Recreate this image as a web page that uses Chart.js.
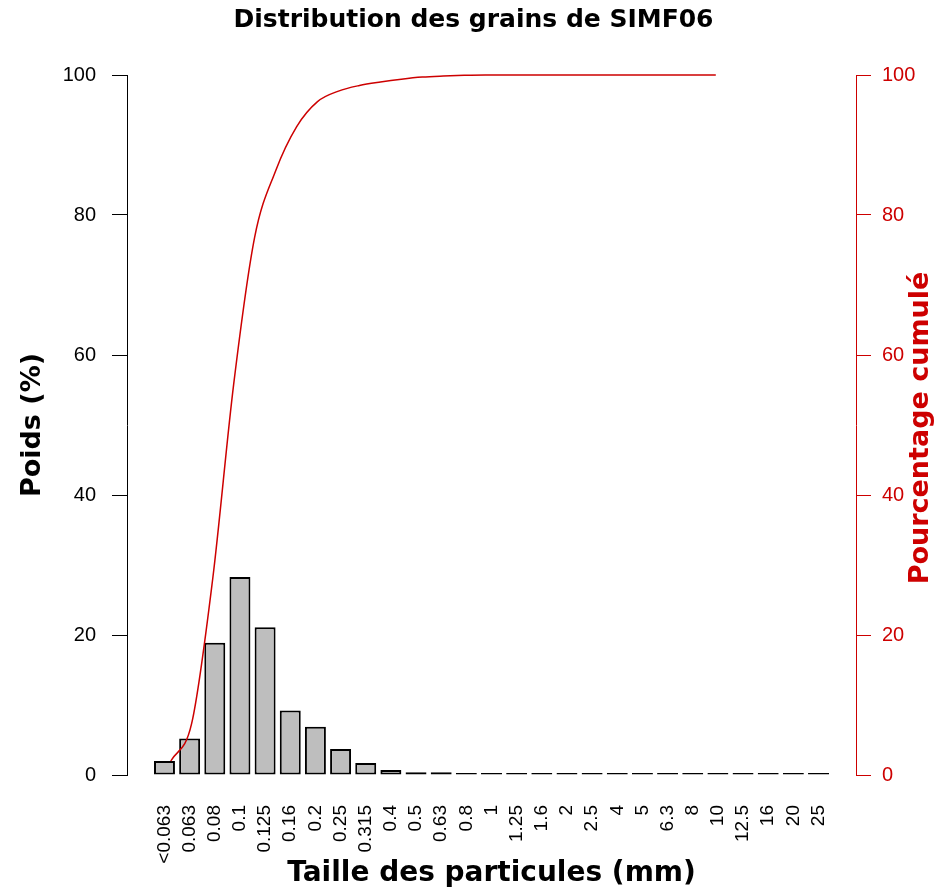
<!DOCTYPE html>
<html>
<head>
<meta charset="utf-8">
<script src="https://cdn.jsdelivr.net/npm/chart.js@4/dist/chart.umd.min.js"></script>
<style>
  body { margin: 0; background: #fff; }
</style>
</head>
<body>
<canvas id="grafico" width="947" height="894"></canvas>
<script>
// classes granulometriques (mm)
const tailles = ['<0.063', '0.063', '0.08', '0.1', '0.125', '0.16', '0.2', '0.25', '0.315',
  '0.4', '0.5', '0.63', '0.8', '1', '1.25', '1.6', '2', '2.5', '4', '5', '6.3', '8', '10',
  '12.5', '16', '20', '25'];
// poids retenu par classe (%)
const poids = [2.0, 5.2, 18.9, 28.3, 21.1, 9.2, 6.9, 3.7, 1.7, 0.7, 0.4, 0.4, 0, 0, 0,
  0, 0, 0, 0, 0, 0, 0, 0, 0, 0, 0, 0];
// pourcentage cumule (%)
const cumule = [2.0, 7.4, 28.0, 55.8, 76.8, 86.3, 92.6, 96.2, 97.7, 98.5, 99.0, 99.4, 99.7,
  99.85, 99.95, 100, 100, 100, 100, 100, 100, 100, 100, 100, 100, 100, 100];
const yTicks = [0, 20, 40, 60, 80, 100];

const rouge = '#cd0000';
const police = '"Liberation Sans", Arial, sans-serif';
const policeTitre = '"DejaVu Sans", Verdana, sans-serif';

// barplot a la R : barres de largeur 1, espace 0.2
const centres = tailles.map((t, i) => 0.7 + 1.2 * i);

// titre de l'axe droit, lu de bas en haut comme dans R
const titreDroit = {
  id: 'titreDroit',
  afterDraw(chart) {
    const ctx = chart.ctx;
    const a = chart.chartArea;
    ctx.save();
    ctx.translate(921, (a.top + a.bottom) / 2 + 3);
    ctx.rotate(-Math.PI / 2);
    ctx.fillStyle = rouge;
    ctx.font = 'bold 27px ' + policeTitre;
    ctx.textAlign = 'center';
    ctx.textBaseline = 'middle';
    ctx.fillText('Pourcentage cumulé', 0, 0);
    ctx.restore();
  }
};

let myChart = new Chart(document.getElementById('grafico'), {
  type: 'bar',
  data: {
    datasets: [{
      type: 'line',
      data: cumule.map((v, i) => ({x: i + 1, y: v})),
      yAxisID: 'y2',
      borderColor: rouge,
      borderWidth: 1.5,
      pointRadius: 0,
      cubicInterpolationMode: 'monotone',
      clip: false
    }, {
      type: 'bar',
      data: poids.map((v, i) => ({x: centres[i], y: v})),
      yAxisID: 'y',
      backgroundColor: '#bebebe',
      borderColor: '#000',
      borderWidth: 2,
      borderSkipped: false,
      minBarLength: 2,
      categoryPercentage: 1,
      barPercentage: 1 / 1.2,
      clip: false
    }]
  },
  options: {
    responsive: false,
    devicePixelRatio: 1,
    animation: false,
    layout: { padding: 0 },
    plugins: {
      legend: { display: false },
      tooltip: { enabled: false },
      title: {
        display: true,
        text: 'Distribution des grains de SIMF06',
        color: '#000',
        font: { family: policeTitre, size: 25, weight: 'bold' },
        padding: { top: 5, bottom: 40 }
      }
    },
    scales: {
      x: {
        type: 'linear',
        min: -1.088,
        max: 33.688,
        offset: false,
        grid: { display: false, drawTicks: false },
        border: { display: false },
        afterBuildTicks: s => { s.ticks = centres.map(v => ({value: v})); },
        afterFit: s => { s.height = 119; },
        ticks: {
          autoSkip: false,
          minRotation: 90,
          maxRotation: 90,
          padding: 30,
          color: '#000',
          font: { family: police, size: 19 },
          callback: (v, i) => tailles[i]
        },
        title: {
          display: true,
          text: 'Taille des particules (mm)',
          color: '#000',
          font: { family: policeTitre, size: 28, weight: 'bold' },
          padding: { top: 0, bottom: 3 }
        }
      },
      y: {
        position: 'left',
        min: 0,
        max: 100,
        afterBuildTicks: s => { s.ticks = yTicks.map(v => ({value: v})); },
        afterFit: s => { s.width = 127; },
        grid: { drawOnChartArea: false, tickLength: 15, color: '#000' },
        border: { display: true, color: '#000', width: 1 },
        ticks: { padding: 16, color: '#000', font: { family: police, size: 20 } },
        title: {
          display: true,
          text: 'Poids (%)',
          color: '#000',
          font: { family: policeTitre, size: 27, weight: 'bold' },
          padding: { top: 17, bottom: 0 }
        }
      },
      y2: {
        position: 'right',
        min: 0,
        max: 100,
        afterBuildTicks: s => { s.ticks = yTicks.map(v => ({value: v})); },
        afterFit: s => { s.width = 91; },
        grid: { drawOnChartArea: false, tickLength: 15, color: rouge },
        border: { display: true, color: rouge, width: 1 },
        ticks: { padding: 11, color: rouge, font: { family: police, size: 20 } }
      }
    }
  },
  plugins: [titreDroit]
});
</script>
</body>
</html>
